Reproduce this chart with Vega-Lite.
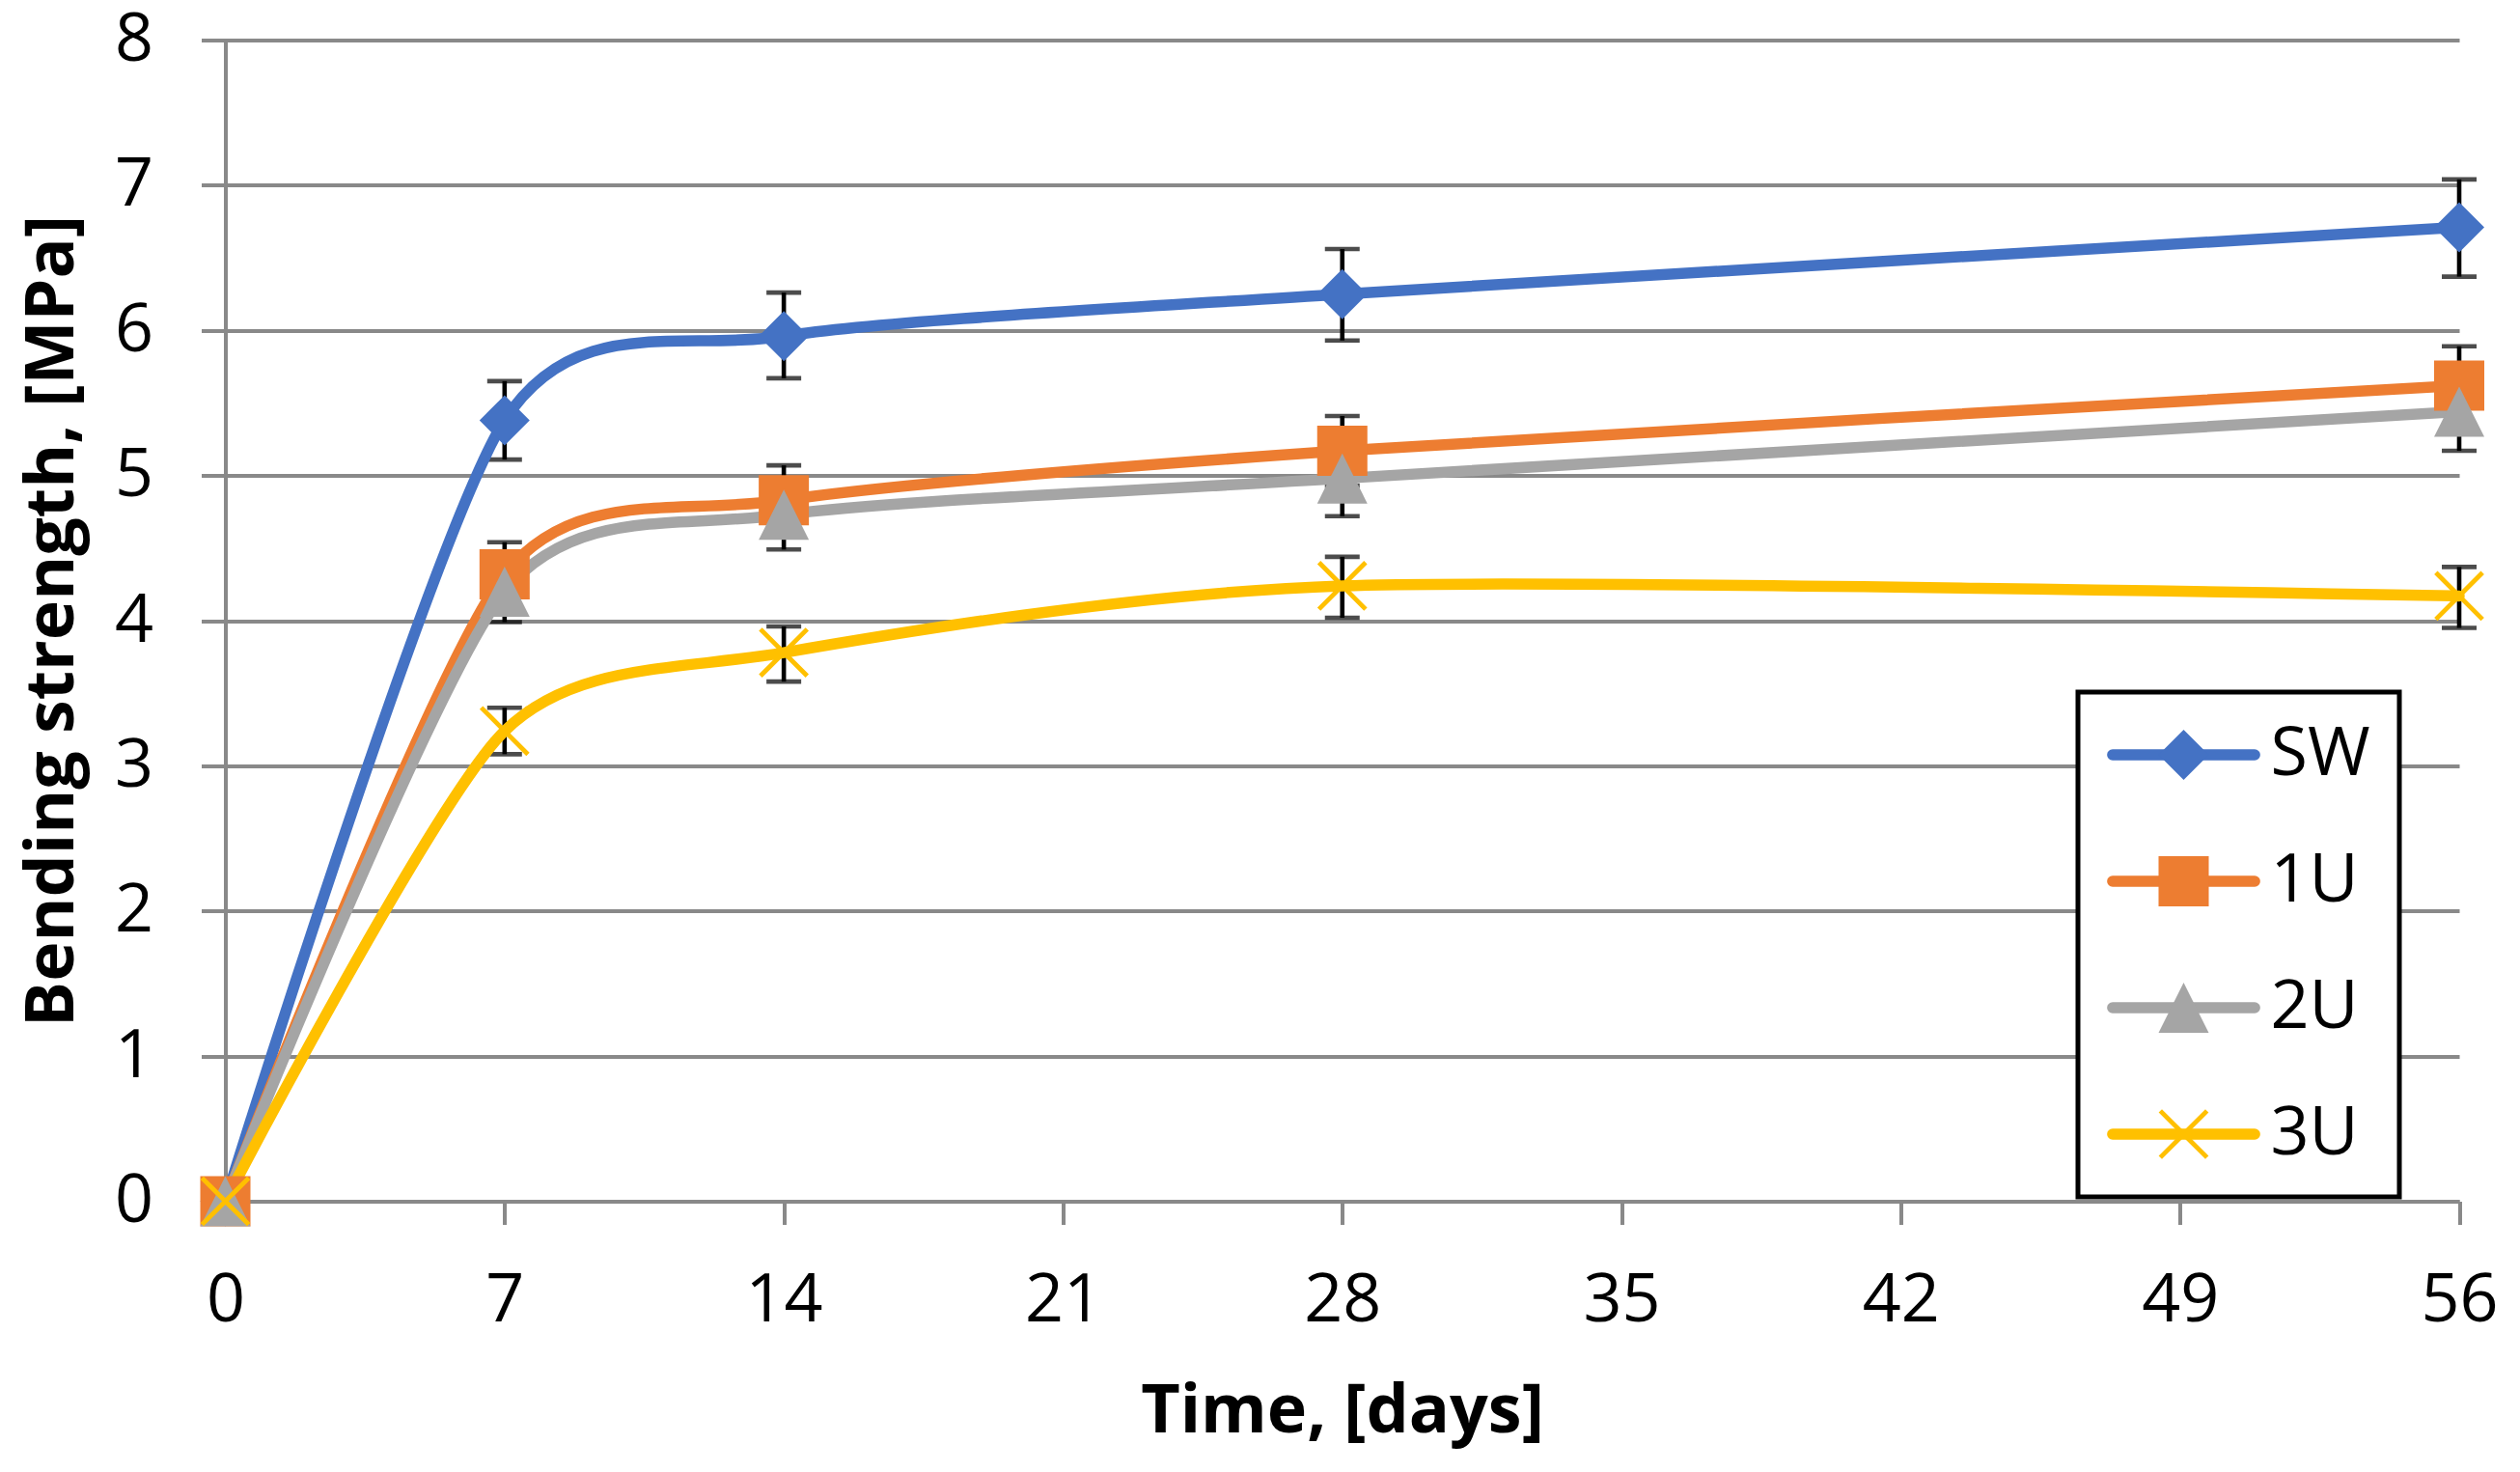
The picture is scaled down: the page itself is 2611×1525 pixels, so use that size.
{
  "$schema": "https://vega.github.io/schema/vega-lite/v6.json",
  "autosize": {"type": "none"},
  "width": 2314.5,
  "height": 1203,
  "padding": {"left": 233.5, "top": 41.5, "right": 63, "bottom": 280.5},
  "background": "white",
  "config": {"font": "Open Sans", "view": {"stroke": null}},
  "data": {
    "values": [
      {"day": 0, "series": "SW", "marker": "SW", "value": 0},
      {"day": 7, "series": "SW", "marker": "SW", "value": 5.38, "lo": 5.11, "hi": 5.65},
      {"day": 14, "series": "SW", "marker": "SW", "value": 5.96, "lo": 5.67, "hi": 6.26},
      {"day": 28, "series": "SW", "marker": "SW", "value": 6.25, "lo": 5.93, "hi": 6.56},
      {"day": 56, "series": "SW", "marker": "SW", "value": 6.71, "lo": 6.37, "hi": 7.04},
      {"day": 0, "series": "1U", "marker": "1U", "value": 0},
      {"day": 7, "series": "1U", "marker": "1U", "value": 4.32, "lo": 4.10, "hi": 4.54},
      {"day": 14, "series": "1U", "marker": "1U", "value": 4.83, "lo": 4.59, "hi": 5.07},
      {"day": 28, "series": "1U", "marker": "1U", "value": 5.17, "lo": 4.93, "hi": 5.41},
      {"day": 56, "series": "1U", "marker": "1U", "value": 5.62, "lo": 5.35, "hi": 5.89},
      {"day": 0, "series": "2U", "marker": "2U", "value": 0},
      {"day": 7, "series": "2U", "marker": "2U", "value": 4.20, "lo": 3.99, "hi": 4.41},
      {"day": 14, "series": "2U", "marker": "2U", "value": 4.73, "lo": 4.49, "hi": 4.97},
      {"day": 28, "series": "2U", "marker": "2U", "value": 4.98, "lo": 4.72, "hi": 5.24},
      {"day": 56, "series": "2U", "marker": "2U", "value": 5.44, "lo": 5.17, "hi": 5.71},
      {"day": 0, "series": "3U", "marker": "3U", "value": 0},
      {"day": 7, "series": "3U", "marker": "3U", "value": 3.24, "lo": 3.08, "hi": 3.40},
      {"day": 14, "series": "3U", "marker": "3U", "value": 3.78, "lo": 3.58, "hi": 3.96},
      {"day": 28, "series": "3U", "marker": "3U", "value": 4.24, "lo": 4.02, "hi": 4.44},
      {"day": 56, "series": "3U", "marker": "3U", "value": 4.17, "lo": 3.95, "hi": 4.37}
    ]
  },
  "encoding": {
    "x": {
      "field": "day",
      "type": "quantitative",
      "title": "Time, [days]",
      "scale": {"domain": [0, 56], "nice": false, "zero": false},
      "axis": {
        "values": [0, 7, 14, 21, 28, 35, 42, 49, 56],
        "grid": false,
        "domainColor": "#898989",
        "domainWidth": 4,
        "tickColor": "#898989",
        "tickWidth": 4,
        "tickSize": 24,
        "labelFontSize": 70,
        "labelColor": "black",
        "labelPadding": 45,
        "labelFlush": false,
        "titleFontSize": 70,
        "titleFontWeight": "bold",
        "titleColor": "black",
        "titleX": 1157,
        "titleY": 239,
        "titleBaseline": "alphabetic",
        "titleAlign": "center"
      }
    },
    "y": {
      "field": "value",
      "type": "quantitative",
      "title": "Bending strength, [MPa]",
      "scale": {"domain": [0, 8], "nice": false},
      "axis": {
        "values": [0, 1, 2, 3, 4, 5, 6, 7, 8],
        "grid": true,
        "gridColor": "#898989",
        "gridWidth": 4,
        "domainColor": "#898989",
        "domainWidth": 4,
        "tickColor": "#898989",
        "tickWidth": 4,
        "tickSize": 25,
        "labelFontSize": 70,
        "labelColor": "black",
        "labelPadding": 50,
        "labelFlush": false,
        "titleFontSize": 70,
        "titleFontWeight": "bold",
        "titleColor": "black",
        "titleAngle": -90,
        "titleX": -158,
        "titleY": 601.5,
        "titleBaseline": "alphabetic",
        "titleAlign": "center"
      }
    }
  },
  "layer": [
    {
      "transform": [{"filter": "datum.day > 0"}],
      "mark": {"type": "errorbar", "ticks": true, "size": 36, "thickness": 4.6, "color": "black"},
      "encoding": {
        "y": {"field": "lo", "type": "quantitative", "title": "Bending strength, [MPa]"},
        "y2": {"field": "hi"}
      }
    },
    {
      "mark": {"type": "line", "interpolate": "cardinal", "tension": 0.25, "strokeWidth": 11.5, "strokeCap": "round"},
      "encoding": {
        "stroke": {
          "field": "series",
          "type": "nominal",
          "sort": ["SW", "1U", "2U", "3U"],
          "scale": {"range": ["#4472C4", "#ED7D31", "#A5A5A5", "#FFC000"]},
          "legend": {
            "title": null,
            "orient": "none",
            "legendX": 1919.5,
            "legendY": 675.5,
            "padding": 30,
            "rowPadding": 61,
            "symbolType": "M-2.63,0H2.63",
            "symbolSize": 3136,
            "symbolStrokeWidth": 11.5,
            "symbolOffset": 44.5,
            "labelOffset": 55,
            "labelFontSize": 70,
            "labelColor": "black",
            "labelLimit": 400,
            "strokeColor": "black",
            "fillColor": "white",
            "encode": {
              "symbols": {
                "update": {
                  "strokeCap": {"value": "round"},
                  "opacity": {"value": 1}
                }
              },
              "legend": {
                "update": {
                  "strokeWidth": {"value": 5}
                }
              }
            }
          }
        }
      }
    },
    {
      "mark": {"type": "point", "filled": true, "size": 2704, "strokeWidth": 0, "opacity": 1},
      "encoding": {
        "fill": {
          "field": "marker",
          "type": "nominal",
          "scale": {"domain": ["SW", "1U", "2U", "3U"], "range": ["#4472C4", "#ED7D31", "#A5A5A5", "#FFC000"]},
          "legend": {
            "title": null,
            "orient": "none",
            "legendX": 1919.5,
            "legendY": 675.5,
            "padding": 30,
            "rowPadding": 61,
            "symbolSize": 2704,
            "symbolStrokeWidth": 0,
            "symbolOffset": 44.5,
            "labelOffset": 55,
            "labelFontSize": 70,
            "labelOpacity": 0,
            "labelLimit": 400
          }
        },
        "shape": {
          "field": "marker",
          "type": "nominal",
          "scale": {"domain": ["SW", "1U", "2U", "3U"], "range": [
            "diamond",
            "square",
            "M0,-1L1,1L-1,1Z",
            "M0,-0.13L0.865,-0.995L0.995,-0.865L0.13,0L0.995,0.865L0.865,0.995L0,0.13L-0.865,0.995L-0.995,0.865L-0.13,0L-0.995,-0.865L-0.865,-0.995Z"
          ]},
          "legend": {
            "title": null,
            "orient": "none",
            "legendX": 1919.5,
            "legendY": 675.5,
            "padding": 30,
            "rowPadding": 61,
            "symbolSize": 2704,
            "symbolStrokeWidth": 0,
            "symbolOffset": 44.5,
            "labelOffset": 55,
            "labelFontSize": 70,
            "labelOpacity": 0,
            "labelLimit": 400
          }
        }
      }
    }
  ]
}
